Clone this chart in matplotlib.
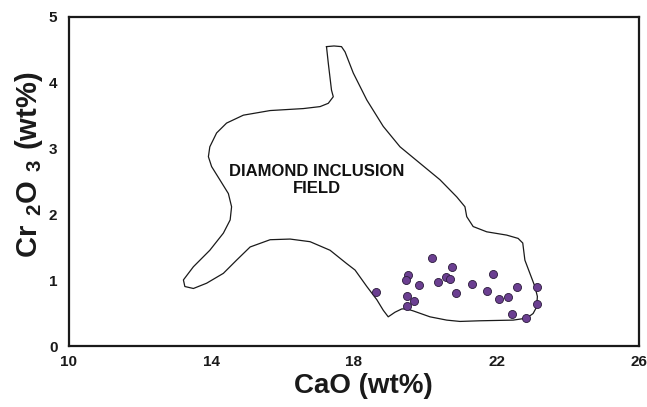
import matplotlib
matplotlib.use('Agg')
import matplotlib.pyplot as plt

plt.rcParams['font.family'] = ['Liberation Sans', 'DejaVu Sans']
plt.rcParams['mathtext.fontset'] = 'custom'
plt.rcParams['mathtext.rm'] = 'Liberation Sans'
plt.rcParams['mathtext.bf'] = 'Liberation Sans:bold'

# garnet analyses
cao = [20.19, 20.75, 19.51, 19.46, 19.82, 20.35, 20.58, 20.68, 21.31, 21.90, 21.73, 22.56,
       23.14, 20.85, 18.62, 19.48, 19.69, 19.48, 22.07, 22.31, 22.42, 22.82, 23.12]
cr2o3 = [1.34, 1.21, 1.09, 1.01, 0.93, 0.98, 1.06, 1.02, 0.95, 1.10, 0.84, 0.91,
         0.91, 0.81, 0.82, 0.76, 0.69, 0.62, 0.72, 0.75, 0.50, 0.43, 0.64]

# outline of the diamond inclusion field
field_cao = [17.23, 17.44, 17.65, 17.75, 17.98, 18.36, 18.82, 19.29, 19.85, 20.41, 20.88, 21.11,
             21.16, 21.34, 21.72, 22.28, 22.60, 22.73, 22.79, 22.93, 23.07, 23.14, 23.12, 23.02,
             22.84, 22.46, 21.53, 20.97, 20.60, 20.13, 19.66, 19.48, 19.34, 19.15, 18.96, 18.82,
             18.64, 18.36, 18.03, 17.79, 17.33, 16.77, 16.21, 15.65, 15.09, 14.71, 14.34, 13.87,
             13.50, 13.26, 13.22, 13.50, 13.96, 14.34, 14.53, 14.57, 14.48, 14.24, 14.01, 13.92,
             13.96, 14.15, 14.43, 14.90, 15.65, 16.58, 17.05, 17.28, 17.42, 17.37, 17.28, 17.23]
field_cr = [4.55, 4.56, 4.55, 4.47, 4.15, 3.74, 3.34, 3.03, 2.78, 2.53, 2.27, 2.12,
            1.97, 1.82, 1.74, 1.69, 1.64, 1.57, 1.31, 1.11, 0.91, 0.76, 0.60, 0.50,
            0.43, 0.40, 0.39, 0.38, 0.40, 0.45, 0.54, 0.57, 0.57, 0.52, 0.45, 0.55,
            0.71, 0.91, 1.16, 1.26, 1.46, 1.59, 1.63, 1.62, 1.51, 1.31, 1.11, 0.96,
            0.88, 0.91, 1.01, 1.21, 1.46, 1.72, 1.92, 2.12, 2.32, 2.53, 2.73, 2.88,
            3.03, 3.24, 3.39, 3.51, 3.58, 3.61, 3.64, 3.69, 3.79, 3.89, 4.30, 4.55]

xticks = [10, 14, 18, 22, 26]
yticks = [0, 1, 2, 3, 4, 5]

fig = plt.figure(figsize=(6.47, 4.07), dpi=100)
ax = fig.add_axes([0.1059, 0.1487, 0.8824, 0.8096])

ax.plot(field_cao, field_cr, color='#1a1a1a', lw=0.9, solid_joinstyle='round')
ax.plot(cao, cr2o3, 'o', ms=5.8, mfc='#6b3f91', mec='#2a1a3a', mew=0.6)

ax.text(16.96, 2.53, 'DIAMOND INCLUSION\nFIELD', ha='center', va='center',
        fontsize=12, fontweight='bold', color='#111111', linespacing=1.15)

ax.set_xlim(10, 26)
ax.set_ylim(0, 5)
ax.set_xticks(xticks)
ax.set_yticks(yticks)
ax.tick_params(length=0, labelsize=11, colors='#1a1a1a')
ax.tick_params(axis='x', pad=6)
ax.tick_params(axis='y', pad=8)
for lab in ax.get_xticklabels() + ax.get_yticklabels():
    lab.set_fontweight('bold')
for s in ax.spines.values():
    s.set_linewidth(1.6)
    s.set_color('#1a1a1a')

ax.set_xlabel('CaO (wt%)', fontsize=20, fontweight='bold', color='#1a1a1a', va='center')
ax.xaxis.set_label_coords(0.516, -0.12)
ax.set_ylabel(r'$\mathbf{Cr\ }_{\mathbf{2}}\mathbf{O\ }_{\mathbf{3}}\mathbf{\ (wt\%)}$',
              fontsize=21, color='#1a1a1a', va='center')
ax.yaxis.set_label_coords(-0.069, 0.551)

fig.savefig('out.png', dpi=100)
